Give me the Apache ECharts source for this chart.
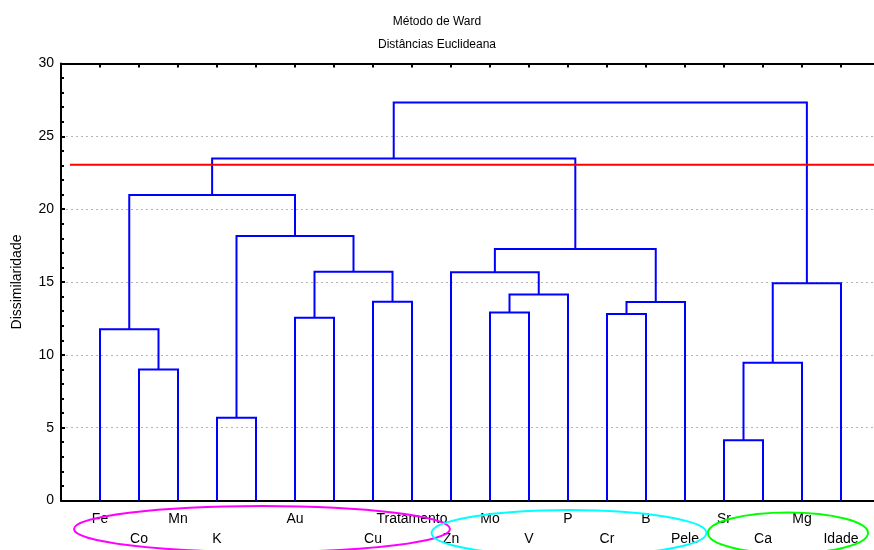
<!DOCTYPE html>
<html>
<head>
<meta charset="utf-8">
<script src="https://cdn.jsdelivr.net/npm/echarts@6/dist/echarts.min.js"></script>
<style>
  html, body { margin: 0; padding: 0; background: #fff; }
  #chart { width: 874px; height: 550px; }
</style>
</head>
<body>
<div id="chart"></div>
<script>
// Leaves in dendrogram order (two leaves carry no label)
const leafNames = ['Fe', 'Co', 'Mn', 'K', '', 'Au', '', 'Cu', 'Tratamento', 'Zn',
                   'Mo', 'V', 'P', 'Cr', 'B', 'Pele', 'Sr', 'Ca', 'Mg', 'Idade'];
// Labels written on the upper of the two label rows
const upperRow = ['Fe', 'Mn', 'Au', 'Tratamento', 'Mo', 'P', 'B', 'Sr', 'Mg'];

// Ward linkage: node ids 0..19 are leaves, merge k creates node 20 + k
const mergeA = [16, 3, 1, 20, 0, 5, 13, 10, 26, 7, 27, 23, 9, 25, 32, 21, 24, 36, 37];
const mergeB = [17, 4, 2, 18, 22, 6, 14, 11, 15, 8, 12, 19, 30, 29, 28, 33, 35, 34, 31];
const mergeHeight = [4.13, 5.68, 9.0, 9.46, 11.75, 12.55, 12.8, 12.9, 13.63, 13.65,
                     14.15, 14.91, 15.67, 15.71, 17.27, 18.16, 20.97, 23.48, 27.33];

// Cut level
const cutHeight = 23.05;
const cutStart = -0.77;

// Node positions: leaves at their index, clusters at the midpoint of their children
const nodeX = leafNames.map((_, i) => i);
const nodeH = leafNames.map(() => 0);
const links = [];
mergeHeight.forEach((h, k) => {
  const a = mergeA[k], b = mergeB[k];
  links.push([nodeX[a], nodeH[a], nodeX[b], nodeH[b], h]);
  nodeX.push((nodeX[a] + nodeX[b]) / 2);
  nodeH.push(h);
});

const FONT = "'Liberation Sans', Arial, sans-serif";
const chart = echarts.init(document.getElementById('chart'));

function leafLabel(row) {
  return function (v) {
    const name = leafNames[Math.round(v)];
    if (!name) return '';
    const isUpper = upperRow.indexOf(name) >= 0;
    return (row === 'upper') === isUpper ? name : '';
  };
}

const xBase = {
  type: 'value', min: -1, max: 20, interval: 1,
  splitLine: { show: false }
};

chart.setOption({
  animation: false,
  backgroundColor: '#fff',
  title: {
    text: 'Método de Ward',
    subtext: 'Distâncias Euclideana',
    left: 'center', top: 11, itemGap: 11,
    textStyle: { fontFamily: FONT, fontSize: 12, fontWeight: 'normal', color: '#000' },
    subtextStyle: { fontFamily: FONT, fontSize: 12, color: '#000' }
  },
  // the plot frame runs on past the right edge of the canvas
  grid: { left: 61, right: -6, top: 63.5, bottom: 49.5, outerBoundsMode: 'none', containLabel: false },
  xAxis: [
    Object.assign({}, xBase, {
      position: 'bottom',
      axisLine: { lineStyle: { color: '#000', width: 2 } },
      axisTick: { inside: true, length: 4, lineStyle: { color: '#000', width: 2 } },
      axisLabel: { margin: 12, color: '#000', fontFamily: FONT, fontSize: 14, formatter: leafLabel('upper') }
    }),
    Object.assign({}, xBase, {
      position: 'bottom',
      axisLine: { show: false },
      axisTick: { show: false },
      axisLabel: { margin: 32, color: '#000', fontFamily: FONT, fontSize: 14, formatter: leafLabel('lower') }
    }),
    Object.assign({}, xBase, {
      position: 'top',
      axisLine: { lineStyle: { color: '#000', width: 2 } },
      axisTick: { inside: true, length: 4, lineStyle: { color: '#000', width: 2 } },
      axisLabel: { show: false }
    })
  ],
  yAxis: {
    type: 'value', min: 0, max: 30, interval: 5,
    name: 'Dissimilaridade', nameLocation: 'middle', nameGap: 37,
    nameTextStyle: { fontFamily: FONT, fontSize: 14, color: '#000' },
    axisLine: { show: true, onZero: false, lineStyle: { color: '#000', width: 2 } },
    axisTick: { show: true, inside: true, length: 4, lineStyle: { color: '#000', width: 2 } },
    minorTick: { show: true, splitNumber: 5, length: 3, lineStyle: { color: '#000', width: 2 } },
    axisLabel: { margin: 7, color: '#000', fontFamily: FONT, fontSize: 14 },
    splitLine: { show: true, lineStyle: { color: '#b4b4b4', type: [2, 3], width: 1 } }
  },
  series: [
    {
      type: 'custom',
      xAxisIndex: 0,
      data: links,
      encode: { x: [0, 2], y: [1, 3, 4] },
      z: 3,
      renderItem: function (params, api) {
        const xa = api.value(0), ha = api.value(1), xb = api.value(2), hb = api.value(3), h = api.value(4);
        return {
          type: 'polyline',
          shape: { points: [api.coord([xa, ha]), api.coord([xa, h]), api.coord([xb, h]), api.coord([xb, hb])] },
          style: { stroke: '#0000ff', lineWidth: 2, fill: null }
        };
      }
    },
    {
      type: 'line',
      xAxisIndex: 0,
      data: [[cutStart, cutHeight], [20, cutHeight]],
      symbol: 'none',
      z: 5,
      lineStyle: { color: '#ff0000', width: 2 }
    }
  ],
  graphic: [
    { type: 'ellipse', z: 100, shape: { cx: 262, cy: 529, rx: 188, ry: 23 },
      style: { fill: 'none', stroke: '#ff00ff', lineWidth: 2 } },
    { type: 'ellipse', z: 100, shape: { cx: 569, cy: 533, rx: 137.5, ry: 23 },
      style: { fill: 'none', stroke: '#00ffff', lineWidth: 2 } },
    { type: 'ellipse', z: 100, shape: { cx: 788, cy: 533, rx: 80, ry: 20.5 },
      style: { fill: 'none', stroke: '#00ff00', lineWidth: 2 } }
  ]
});
</script>
</body>
</html>
